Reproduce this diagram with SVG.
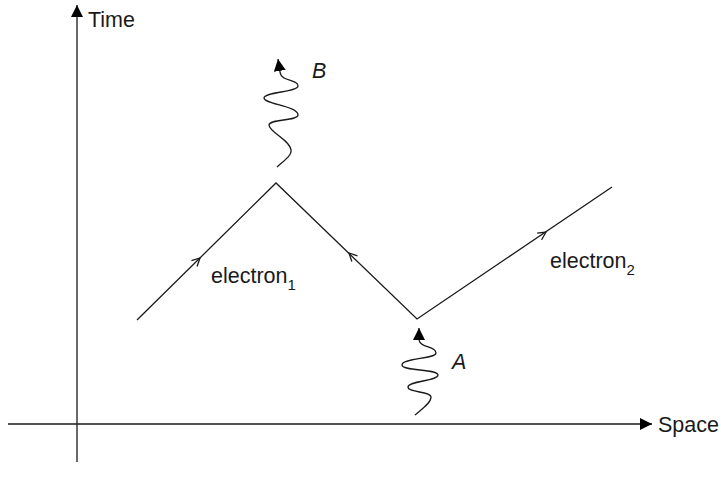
<svg xmlns="http://www.w3.org/2000/svg" width="721" height="489" viewBox="0 0 721 489">
<style>
.ln{fill:none;stroke:#1a1a1a;stroke-width:1.3}
.mk{fill:none;stroke:none}
.t{font-family:"Liberation Sans",Arial,sans-serif;font-size:21.5px;fill:#1a1a1a}
.i{font-style:italic}
.s{font-size:15px}
</style>
<defs>
<marker id="fill" viewBox="0 0 12 12" refX="12" refY="6" markerWidth="12" markerHeight="12" markerUnits="userSpaceOnUse" orient="auto">
<path d="M0,0 L12,6 L0,12 Z" fill="#000"/>
</marker>
<marker id="open" viewBox="0 0 10 10" refX="9" refY="5" markerWidth="10" markerHeight="10" markerUnits="userSpaceOnUse" orient="auto">
<path d="M1,1 L9,5 L1,9" fill="none" stroke="#1a1a1a" stroke-width="1.3"/>
</marker>
</defs>
<rect width="721" height="489" fill="#fff"/>
<g id="axes">
<line class="ln" x1="77" y1="462" x2="77" y2="5" marker-end="url(#fill)"/>
<line class="ln" x1="8" y1="424" x2="652" y2="424" marker-end="url(#fill)"/>
<text class="t" x="88" y="27">Time</text>
<text class="t" x="658" y="432">Space</text>
</g>
<g id="connectors">
<polyline class="ln" points="137,320 276,183 417,319 612,187"/>
<path class="mk" d="M190,267.8 L200,258" marker-end="url(#open)"/>
<path class="mk" d="M357,261 L349,253" marker-end="url(#open)"/>
<path class="mk" d="M536,238.7 L546,232" marker-end="url(#open)"/>
</g>
<g id="photonB">
<path class="ln" d="M277,167 C285,160 292,155 291,150 C290,140 269,132 269,125 C269,119 298,121 298,115 C298,106 264,104 264,98 C264,92 298,92 298,86 C298,79 281,82 280,72 L278,59" marker-end="url(#fill)"/>
<text class="t i" x="312" y="78">B</text>
</g>
<g id="photonA">
<path class="ln" d="M415,415 C422,409 431,403 431,397 C431,391 408,393 408,387 C408,381 438,381 438,375 C438,369 402,371 402,365 C402,358 436,359 436,353 C436,346 420,348 419,340 L419,328" marker-end="url(#fill)"/>
<text class="t i" x="452" y="369">A</text>
</g>
<g id="labels">
<text class="t" x="211" y="283">electron<tspan class="s" dy="7">1</tspan></text>
<text class="t" x="550" y="268">electron<tspan class="s" dy="7">2</tspan></text>
</g>
</svg>
